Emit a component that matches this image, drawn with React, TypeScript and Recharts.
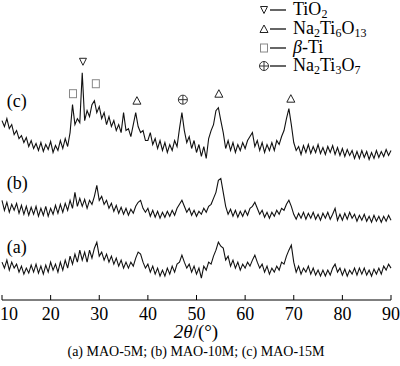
import React from 'react';
import { LineChart, Line, XAxis, YAxis, ReferenceDot } from 'recharts';

const SERIF = "'Liberation Serif', 'Times New Roman', Times, 'DejaVu Serif', serif";

// 2θ grid, degrees
const ANGLES = [
  10, 10.5, 11, 11.5, 12, 12.5, 13, 13.5, 14, 14.5, 15, 15.5, 16, 16.5, 17, 17.5, 18, 18.5, 19, 19.5,
  20, 20.5, 21, 21.5, 22, 22.5, 23, 23.5, 24, 24.5, 25, 25.5, 26, 26.5, 27, 27.5, 28, 28.5, 29, 29.5,
  30, 30.5, 31, 31.5, 32, 32.5, 33, 33.5, 34, 34.5, 35, 35.5, 36, 36.5, 37, 37.5, 38, 38.5, 39, 39.5,
  40, 40.5, 41, 41.5, 42, 42.5, 43, 43.5, 44, 44.5, 45, 45.5, 46, 46.5, 47, 47.5, 48, 48.5, 49, 49.5,
  50, 50.5, 51, 51.5, 52, 52.5, 53, 53.5, 54, 54.5, 55, 55.5, 56, 56.5, 57, 57.5, 58, 58.5, 59, 59.5,
  60, 60.5, 61, 61.5, 62, 62.5, 63, 63.5, 64, 64.5, 65, 65.5, 66, 66.5, 67, 67.5, 68, 68.5, 69, 69.5,
  70, 70.5, 71, 71.5, 72, 72.5, 73, 73.5, 74, 74.5, 75, 75.5, 76, 76.5, 77, 77.5, 78, 78.5, 79, 79.5,
  80, 80.5, 81, 81.5, 82, 82.5, 83, 83.5, 84, 84.5, 85, 85.5, 86, 86.5, 87, 87.5, 88, 88.5, 89, 89.5,
  90,
];

// intensities (offset, arb. units)
const TRACE_A = [
  38, 32, 40, 30, 38, 32, 36, 28, 34, 26, 32, 27, 35, 28, 36, 27, 34, 26, 35, 28,
  38, 30, 36, 28, 38, 30, 40, 32, 44, 36, 46, 38, 50, 40, 48, 38, 50, 42, 52, 58,
  44, 48, 40, 46, 38, 44, 36, 42, 34, 40, 32, 38, 32, 38, 34, 42, 48, 46, 38, 32,
  36, 28, 34, 26, 32, 24, 30, 24, 32, 26, 34, 28, 36, 38, 45, 38, 32, 36, 28, 34,
  26, 32, 22, 34, 30, 38, 36, 44, 50, 58, 54, 52, 40, 44, 34, 40, 32, 38, 30, 36,
  32, 38, 34, 40, 45, 38, 32, 36, 28, 34, 26, 32, 28, 34, 30, 38, 36, 44, 50, 55,
  38, 28, 34, 26, 32, 28, 34, 26, 32, 25, 30, 24, 30, 24, 30, 25, 32, 36, 28, 32,
  25, 31, 24, 30, 26, 32, 25, 32, 26, 32, 25, 30, 24, 31, 26, 32, 26, 34, 30, 36,
  32,
];

const TRACE_B = [
  100, 90, 98, 88, 96, 90, 97, 87, 95, 86, 94, 85, 93, 86, 94, 84, 92, 85, 94, 84,
  92, 86, 95, 87, 96, 88, 97, 90, 100, 92, 108, 94, 102, 94, 101, 92, 100, 96, 104, 115,
  100, 104, 96, 100, 92, 97, 89, 95, 87, 93, 86, 92, 85, 91, 87, 94, 98, 100, 92, 88,
  92, 84, 90, 83, 89, 82, 88, 83, 89, 84, 90, 85, 92, 96, 100, 94, 88, 92, 85, 90,
  84, 89, 86, 92, 88, 94, 96, 102, 108, 120, 122, 108, 94, 86, 91, 84, 90, 83, 89, 84,
  90, 85, 92, 94, 98, 92, 86, 90, 83, 88, 82, 88, 84, 90, 86, 92, 90, 96, 100, 94,
  86, 81, 87, 82, 88, 81, 87, 82, 88, 81, 86, 80, 87, 82, 88, 81, 86, 92, 80, 86,
  80, 87, 81, 88, 82, 86, 79, 85, 80, 86, 79, 84, 78, 85, 79, 84, 78, 84, 79, 85,
  80,
];

const TRACE_C = [
  180, 174, 182, 172, 176, 166, 170, 162, 165, 158, 163, 154, 160, 152, 157, 150, 158, 149, 156, 151,
  159, 148, 155, 150, 160, 152, 162, 154, 168, 196, 176, 182, 178, 228, 180, 190, 184, 196, 200, 188,
  194, 182, 188, 176, 184, 174, 180, 170, 176, 168, 188, 170, 172, 164, 176, 188, 174, 168, 170, 160,
  160, 168, 156, 162, 152, 160, 150, 158, 148, 156, 150, 160, 154, 172, 188, 170, 158, 164, 152, 160,
  148, 156, 144, 154, 142, 162, 170, 176, 190, 193, 180, 168, 152, 160, 150, 158, 148, 156, 150, 158,
  152, 160, 164, 168, 154, 160, 150, 158, 148, 156, 150, 158, 150, 160, 156, 164, 170, 182, 192, 176,
  158, 150, 154, 146, 155, 148, 156, 147, 154, 148, 156, 147, 153, 146, 154, 148, 155, 146, 153, 145,
  152, 144, 151, 145, 150, 142, 149, 142, 150, 143, 149, 141, 148, 142, 150, 143, 149, 144, 151, 145,
  150,
];

const X_TICKS = [10, 20, 30, 40, 50, 60, 70, 80, 90];

const SAMPLE_LABELS = ['(a)', '(b)', '(c)'];
const SAMPLE_LEVELS = [53, 117, 200];

// phase markers above the peaks
const PEAK_KINDS = ['beta', 'tio2', 'beta', 'nto', 'nts', 'nto', 'nto'];
const PEAK_ANGLES = [24.6, 26.65, 29.3, 37.75, 47.2, 54.6, 69.4];
const PEAK_LEVELS = [207, 239, 217, 200, 201, 207, 202];

const LEGEND_KINDS = ['tio2', 'nto', 'beta', 'nts'];
// [text, style] parts: 's' = subscript, 'i' = italic
const LEGEND_TEXT: Array<Array<[string, string]>> = [
  [['TiO', ''], ['2', 's']],
  [['Na', ''], ['2', 's'], ['Ti', ''], ['6', 's'], ['O', ''], ['13', 's']],
  [['β', 'i'], ['-Ti', '']],
  [['Na', ''], ['2', 's'], ['Ti', ''], ['3', 's'], ['O', ''], ['7', 's']],
];

const data = ANGLES.map((angle, i) => ({
  angle,
  a: TRACE_A[i],
  b: TRACE_B[i],
  c: TRACE_C[i],
}));

function PhaseSymbol({ kind, cx, cy }: { kind: string; cx: number; cy: number }) {
  if (kind === 'tio2') {
    return (
      <polygon
        points={`${cx - 3.5},${cy - 3.5} ${cx + 3.5},${cy - 3.5} ${cx},${cy + 3.5}`}
        fill="none" stroke="#222" strokeWidth={1}
      />
    );
  }
  if (kind === 'nto') {
    return (
      <polygon
        points={`${cx - 4},${cy + 3.5} ${cx + 4},${cy + 3.5} ${cx},${cy - 4}`}
        fill="none" stroke="#222" strokeWidth={1}
      />
    );
  }
  if (kind === 'beta') {
    return <rect x={cx - 3.5} y={cy - 4} width={7} height={8} fill="none" stroke="#888" strokeWidth={1} />;
  }
  return (
    <g fill="none" stroke="#333" strokeWidth={1}>
      <circle cx={cx} cy={cy} r={4.5} />
      <line x1={cx - 4.5} x2={cx + 4.5} y1={cy} y2={cy} />
      <line x1={cx} x2={cx} y1={cy - 4.5} y2={cy + 4.5} />
    </g>
  );
}

function AngleTick(props: any) {
  const { x, y, payload } = props;
  const first = payload.value === X_TICKS[0];
  return (
    <g>
      <line x1={x} x2={x} y1={y} y2={y - 5} stroke="#000" />
      <text
        x={first ? x - 2 : x}
        y={y + 20}
        textAnchor={first ? 'start' : 'middle'}
        fontSize={18}
        fontFamily={SERIF}
        fill="#000"
      >
        {payload.value}
      </text>
    </g>
  );
}

function Legend() {
  const baselines = [15, 34, 53, 71];
  return (
    <g>
      {LEGEND_KINDS.map((kind, i) => (
        <g key={kind + i}>
          <PhaseSymbol kind={kind} cx={264} cy={baselines[i] - 5} />
          <line x1={270} x2={286} y1={baselines[i] - 5} y2={baselines[i] - 5} stroke="#000" strokeWidth={1.2} />
          <text x={293} y={baselines[i]} fontSize={18} fontFamily={SERIF} fill="#000">
            {LEGEND_TEXT[i].map(([t, s], j) => {
              const prevSub = j > 0 && LEGEND_TEXT[i][j - 1][1] === 's';
              if (s === 's') {
                return <tspan key={j} fontSize={12} dy={prevSub ? 0 : 3}>{t}</tspan>;
              }
              return (
                <tspan key={j} dy={prevSub ? -3 : 0} fontStyle={s === 'i' ? 'italic' : 'normal'}>{t}</tspan>
              );
            })}
          </text>
        </g>
      ))}
    </g>
  );
}

export default function App() {
  return (
    <div style={{ position: 'absolute', left: 0, top: 0, width: 400, height: 366, background: '#fff' }}>
      <LineChart width={400} height={366} data={data} margin={{ top: 1, right: 9, left: 2, bottom: 0 }}>
        <XAxis
          dataKey="angle"
          type="number"
          domain={[10, 90]}
          ticks={X_TICKS}
          interval={0}
          height={66}
          tickSize={0}
          tickMargin={0}
          tickLine={false}
          axisLine={{ stroke: '#000' }}
          tick={<AngleTick />}
        />
        <XAxis
          xAxisId="top"
          orientation="top"
          dataKey="angle"
          type="number"
          domain={[10, 90]}
          height={0}
          tick={false}
          tickLine={false}
          axisLine={{ stroke: '#000' }}
        />
        <YAxis domain={[0, 300]} width={0} tick={false} tickLine={false} axisLine={{ stroke: '#000' }} />
        <YAxis
          yAxisId="right"
          orientation="right"
          domain={[0, 300]}
          width={0}
          tick={false}
          tickLine={false}
          axisLine={{ stroke: '#000' }}
        />
        <Line type="linear" dataKey="a" stroke="#111" strokeWidth={1.1} dot={false} isAnimationActive={false} />
        <Line type="linear" dataKey="b" stroke="#111" strokeWidth={1.1} dot={false} isAnimationActive={false} />
        <Line type="linear" dataKey="c" stroke="#111" strokeWidth={1.1} dot={false} isAnimationActive={false} />
        {PEAK_KINDS.map((kind, i) => (
          <ReferenceDot
            key={'peak' + i}
            x={PEAK_ANGLES[i]}
            y={PEAK_LEVELS[i]}
            shape={(p: any) => <PhaseSymbol kind={kind} cx={p.cx} cy={p.cy} />}
          />
        ))}
        {SAMPLE_LABELS.map((label, i) => (
          <ReferenceDot
            key={label}
            x={11}
            y={SAMPLE_LEVELS[i]}
            shape={(p: any) => (
              <text x={p.cx} y={p.cy} dominantBaseline="central" fontSize={18} fontFamily={SERIF} fill="#000">
                {label}
              </text>
            )}
          />
        ))}
      </LineChart>
      <svg width={400} height={366} style={{ position: 'absolute', left: 0, top: 0, pointerEvents: 'none' }}>
        <Legend />
        <text x={196} y={338} textAnchor="middle" fontSize={19} fontFamily={SERIF} fill="#000">
          <tspan fontStyle="italic">2θ</tspan>/(°)
        </text>
        <text x={196} y={356} textAnchor="middle" fontSize={14} fontFamily={SERIF} fill="#000">
          (a) MAO-5M; (b) MAO-10M; (c) MAO-15M
        </text>
      </svg>
    </div>
  );
}
